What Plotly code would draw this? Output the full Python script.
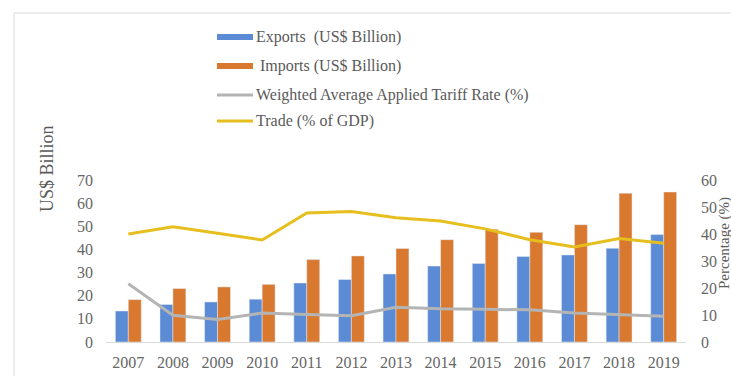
import plotly.graph_objects as go

# Trade data, 2007-2019
years = ["2007", "2008", "2009", "2010", "2011", "2012", "2013",
         "2014", "2015", "2016", "2017", "2018", "2019"]
exports = [13.4, 16.2, 17.3, 18.5, 25.5, 27.0, 29.4, 32.8, 33.9, 36.9, 37.6, 40.5, 46.4]
imports = [18.3, 23.1, 23.8, 24.9, 35.6, 37.2, 40.4, 44.2, 48.7, 47.4, 50.7, 64.3, 64.8]
tariff = [21.6, 9.9, 8.3, 10.7, 10.2, 9.7, 12.9, 12.3, 12.1, 11.9, 10.7, 10.1, 9.5]
trade_gdp = [40.0, 42.7, 40.3, 37.8, 47.8, 48.3, 46.0, 44.8, 41.9, 37.9, 35.2, 38.3, 36.6]

left_ticks = [0, 10, 20, 30, 40, 50, 60, 70]
right_ticks = [0, 10, 20, 30, 40, 50, 60]

BLUE = "#5b8bd4"
ORANGE = "#d9782f"
GRAY = "#b4b4b4"
YELLOW = "#e6bf1e"
TXT = "#5a5a5a"
TICK = "#666666"
FONT = "Liberation Serif"

W, H = 731, 376
ML, MR, MT, MB = 106, 45, 180, 34
PW, PH = W - ML - MR, H - MT - MB


def px(xp):
    return (xp - ML) / PW


def py(yp):
    return (H - MB - yp) / PH


tick_font = dict(family=FONT, size=16, color=TICK)

fig = go.Figure()
fig.add_trace(go.Bar(x=years, y=exports, name="Exports  (US$ Billion)",
                     marker_color=BLUE, yaxis="y"))
fig.add_trace(go.Bar(x=years, y=imports, name=" Imports (US$ Billion)",
                     marker_color=ORANGE, yaxis="y"))
fig.add_trace(go.Scatter(x=years, y=tariff, name="Weighted Average Applied Tariff Rate (%)",
                         mode="lines", line=dict(color=GRAY, width=3), yaxis="y2"))
fig.add_trace(go.Scatter(x=years, y=trade_gdp, name="Trade (% of GDP)",
                         mode="lines", line=dict(color=YELLOW, width=3), yaxis="y2"))

# Legend drawn as swatches + labels above the plot
legend_rows = [
    ("Exports  (US$ Billion)", BLUE, "bar", 37),
    (" Imports (US$ Billion)", ORANGE, "bar", 66),
    ("Weighted Average Applied Tariff Rate (%)", GRAY, "line", 95),
    ("Trade (% of GDP)", YELLOW, "line", 121),
]
shapes = []
annotations = []
for label, color, kind, yc in legend_rows:
    hh = 3 if kind == "bar" else 1.5
    shapes.append(dict(type="rect", xref="paper", yref="paper",
                       x0=px(217), x1=px(253), y0=py(yc + hh), y1=py(yc - hh),
                       fillcolor=color, line=dict(width=0)))
    annotations.append(dict(text=label, xref="paper", yref="paper",
                            x=px(254), y=py(yc), xanchor="left", yanchor="middle",
                            showarrow=False, font=dict(family=FONT, size=16, color=TXT)))

# faint frame around the chart area
shapes.append(dict(type="line", xref="paper", yref="paper",
                   x0=px(14), x1=px(14), y0=py(13), y1=py(376),
                   line=dict(color="#ececec", width=2)))
shapes.append(dict(type="line", xref="paper", yref="paper",
                   x0=px(14), x1=px(731), y0=py(13), y1=py(13),
                   line=dict(color="#ececec", width=2)))

# axis titles
annotations.append(dict(text="US$ Billion", xref="paper", yref="paper",
                        x=px(47), y=py(169), textangle=-90, showarrow=False,
                        xanchor="center", yanchor="middle",
                        font=dict(family=FONT, size=18, color=TXT)))
annotations.append(dict(text="Percentage (%)", xref="paper", yref="paper",
                        x=px(724), y=py(243), textangle=-90, showarrow=False,
                        xanchor="center", yanchor="middle",
                        font=dict(family=FONT, size=15, color=TXT)))

fig.update_layout(
    width=W, height=H,
    margin=dict(l=ML, r=MR, t=MT, b=MB, pad=0),
    paper_bgcolor="white", plot_bgcolor="white",
    barmode="group", bargap=0.42, bargroupgap=0,
    showlegend=False,
    font=dict(family=FONT, size=16, color=TXT),
    xaxis=dict(type="category", showgrid=False, showline=True,
               linecolor="#d9d9d9", linewidth=1, ticks="", automargin=False,
               ticklabelstandoff=6, tickfont=tick_font),
    yaxis=dict(range=[0, 70], tickvals=left_ticks, showgrid=False, automargin=False,
               zeroline=False, showline=False, ticks="",
               ticklabelstandoff=12, tickfont=tick_font),
    yaxis2=dict(range=[0, 60], tickvals=right_ticks, overlaying="y", side="right",
                showgrid=False, zeroline=False, showline=False, ticks="", automargin=False,
                ticklabelstandoff=14, tickfont=tick_font),
    shapes=shapes,
    annotations=annotations,
)

fig.write_html("out.html")
